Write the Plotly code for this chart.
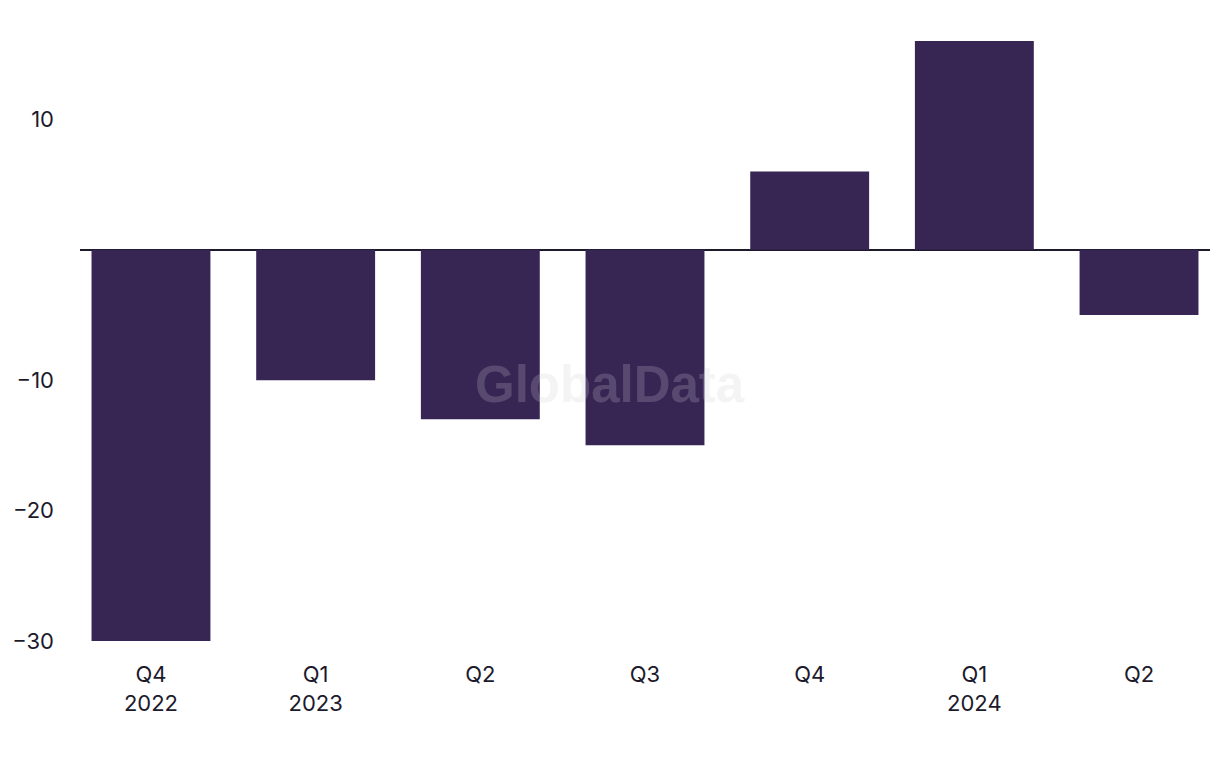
import plotly.graph_objects as go

quarters = ["Q4<br>2022", "Q1<br>2023", "Q2", "Q3", "Q4", "Q1<br>2024", "Q2"]
values = [-30, -10, -13, -15, 6, 16, -5]
ytick_vals = [-30, -20, -10, 10]
ytick_text = ["−30", "−20", "−10", "10"]

x_idx = list(range(len(values)))

fig = go.Figure(go.Bar(x=x_idx, y=values, marker_color="#372554", width=0.722,
                       marker_line_width=0, hoverinfo="skip"))

fig.update_layout(
    width=1220, height=768,
    margin=dict(l=72, r=18, t=20, b=135),
    paper_bgcolor="white", plot_bgcolor="white",
    font=dict(family="Inter, Liberation Sans, sans-serif", size=22, color="#1c1a2b"),
    showlegend=False,
    xaxis=dict(range=[-0.431, 6.431], tickmode="array", tickvals=x_idx, ticktext=quarters,
               showgrid=False, zeroline=False, showline=False, ticks="",
               ticklabelstandoff=18, automargin=False),
    yaxis=dict(range=[-30, 17], tickmode="array", tickvals=ytick_vals, ticktext=ytick_text,
               showgrid=False, zeroline=True, zerolinecolor="#1c1a2b", zerolinewidth=1.5,
               showline=False, ticks="", ticklabelstandoff=25, automargin=False),
    annotations=[dict(text="<b>GlobalData</b>", x=0.469, y=0.419, xref="paper", yref="paper",
                      xanchor="center", yanchor="middle", showarrow=False,
                      font=dict(size=51, color="rgba(206,206,210,0.22)",
                                family="Liberation Sans, Arial, sans-serif"))],
)

fig.write_html("out.html")
